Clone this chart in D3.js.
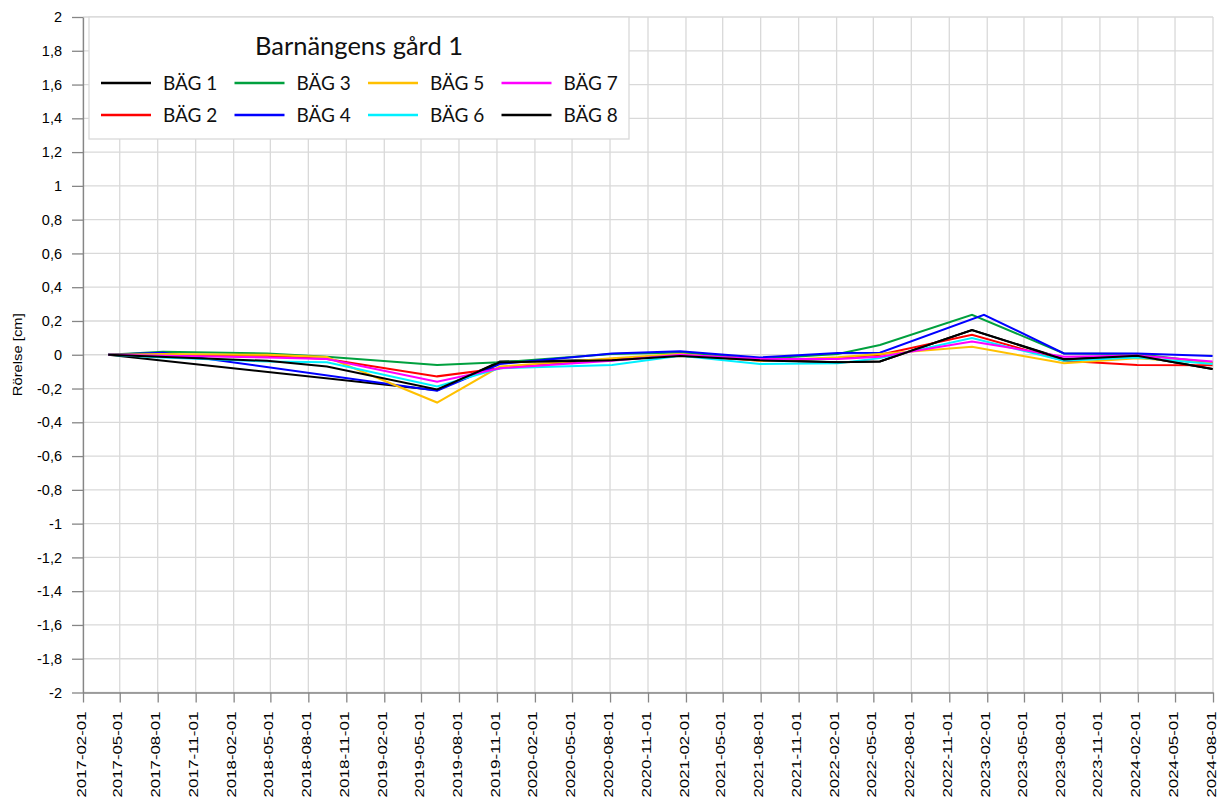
<!DOCTYPE html>
<html>
<head>
<meta charset="utf-8">
<script src="https://cdn.jsdelivr.net/npm/d3@7"></script>
<style>
    body { margin: 0; background: #fff; }
    .axis text { font-family: 'Liberation Sans', Arial, sans-serif; fill: #000; }
    .axis path, .axis line { stroke: #868686; stroke-width: 1.3px; }
    .grid line { stroke: #d9d9d9; stroke-width: 1.3px; }
    .legend text { font-family: Lato, 'Noto Sans', sans-serif; fill: #111; }
    path.serie { fill: none; stroke-width: 2px; stroke-linejoin: miter; }
</style>
</head>
<body>
<div id="chart"></div>
<script>
let dates = ["2017-04-03", "2017-08-14", "2018-04-23", "2018-09-15", "2019-06-09", "2019-11-08",
    "2020-08-06", "2021-01-18", "2021-07-30", "2022-02-04", "2022-05-17", "2022-12-26",
    "2023-01-24", "2023-08-06", "2024-01-30", "2024-07-31"];

// movement in cm, null = no reading
let bag1 = [0, null, null, null, -0.21, -0.04, -0.03, -0.006, -0.03, -0.045, -0.04, 0.146, null, -0.025, -0.006, -0.085];
let bag2 = [0, 0, -0.006, -0.025, -0.128, -0.08, -0.025, 0, -0.036, -0.02, 0, 0.118, null, -0.035, -0.06, -0.062];
let bag3 = [0, 0.018, 0.008, -0.012, -0.061, -0.045, 0.004, 0.014, -0.025, 0.004, 0.058, 0.237, null, 0.008, 0.005, -0.047];
let bag4 = [0, 0.012, null, null, -0.213, -0.055, 0.008, 0.02, -0.016, 0.01, 0.012, null, 0.237, 0.008, 0.008, -0.008];
let bag5 = [0, 0.004, 0, -0.014, -0.283, -0.07, -0.02, 0.004, -0.036, -0.015, 0.004, 0.047, null, -0.05, -0.02, -0.05];
let bag6 = [0, -0.016, -0.04, -0.045, -0.188, -0.08, -0.06, -0.006, -0.055, -0.05, -0.02, 0.099, null, -0.036, -0.016, -0.055];
let bag7 = [0, -0.006, -0.016, -0.025, -0.16, -0.08, -0.036, 0, -0.025, -0.025, -0.012, 0.079, null, -0.012, -0.004, -0.04];
let bag8 = [0, null, -0.036, -0.07, -0.205, -0.045, -0.032, -0.008, -0.033, -0.045, -0.04, 0.146, null, -0.028, -0.006, -0.085];

let names = ["BÄG 1", "BÄG 2", "BÄG 3", "BÄG 4", "BÄG 5", "BÄG 6", "BÄG 7", "BÄG 8"];
let colors = ["#000000", "#ff0000", "#00a03e", "#0000ff", "#ffc000", "#00f0ff", "#ff00ff", "#000000"];
let values = [bag1, bag2, bag3, bag4, bag5, bag6, bag7, bag8];

let xTicks = ["2017-02-01", "2017-05-01", "2017-08-01", "2017-11-01", "2018-02-01", "2018-05-01",
    "2018-08-01", "2018-11-01", "2019-02-01", "2019-05-01", "2019-08-01", "2019-11-01",
    "2020-02-01", "2020-05-01", "2020-08-01", "2020-11-01", "2021-02-01", "2021-05-01",
    "2021-08-01", "2021-11-01", "2022-02-01", "2022-05-01", "2022-08-01", "2022-11-01",
    "2023-02-01", "2023-05-01", "2023-08-01", "2023-11-01", "2024-02-01", "2024-05-01", "2024-08-01"];
let yTicks = d3.range(-10, 11).map(i => i / 5);

let width = 1220,
    height = 798,
    plot = {left: 83, right: 1213, top: 17, bottom: 692.5};

let parse = d3.utcParse("%Y-%m-%d");
let tickDates = xTicks.map(parse);

let x = d3.scaleUtc()
    .domain([tickDates[0], tickDates[tickDates.length - 1]])
    .range([plot.left, plot.right]);

let y = d3.scaleLinear()
    .domain([-2, 2])
    .range([plot.bottom, plot.top]);

let svg = d3.select("#chart").append("svg")
    .attr("width", width)
    .attr("height", height);

// grid
let grid = svg.append("g").attr("class", "grid");
grid.selectAll("line.v")
    .data(tickDates)
    .enter().append("line")
    .attr("class", "v")
    .attr("x1", d => x(d)).attr("x2", d => x(d))
    .attr("y1", plot.top).attr("y2", plot.bottom);
grid.selectAll("line.h")
    .data(yTicks)
    .enter().append("line")
    .attr("class", "h")
    .attr("x1", plot.left).attr("x2", plot.right)
    .attr("y1", d => y(d)).attr("y2", d => y(d));

// axes
let fmt = v => (Math.round(v * 10) / 10).toString().replace(".", ",");

svg.append("g")
    .attr("class", "axis")
    .attr("transform", "translate(" + plot.left + ",0)")
    .call(d3.axisLeft(y).tickValues(yTicks).tickFormat(fmt).tickSize(11).tickSizeOuter(0).tickPadding(10))
    .selectAll("text")
    .style("font-size", "14.5px");

let xAxis = svg.append("g")
    .attr("class", "axis")
    .attr("transform", "translate(0," + plot.bottom + ")")
    .call(d3.axisBottom(x).tickValues(tickDates).tickFormat(d3.utcFormat("%Y-%m-%d")).tickSize(10).tickSizeOuter(0));

xAxis.selectAll("text")
    .style("font-size", "13px")
    .attr("text-anchor", "end")
    .attr("textLength", 86)
    .attr("lengthAdjust", "spacingAndGlyphs")
    .attr("transform", "rotate(-90)")
    .attr("x", -19)
    .attr("y", -2.5)
    .attr("dy", "0.35em");

svg.append("text")
    .attr("transform", "translate(22," + y(0) + ") rotate(-90)")
    .attr("text-anchor", "middle")
    .attr("textLength", 83)
    .attr("lengthAdjust", "spacingAndGlyphs")
    .style("font-family", "'Liberation Sans', Arial, sans-serif")
    .style("font-size", "13.5px")
    .text("Rörelse [cm]");

// series
let line = d3.line()
    .x(d => x(d.date))
    .y(d => y(d.value));

values.forEach((serie, i) => {
    let points = serie
        .map((v, j) => ({date: parse(dates[j]), value: v}))
        .filter(d => d.value !== null);
    svg.append("path")
        .datum(points)
        .attr("class", "serie")
        .attr("d", line)
        .style("stroke", colors[i]);
});

// legend
let legend = svg.append("g").attr("class", "legend");
legend.append("rect")
    .attr("x", 89).attr("y", 17)
    .attr("width", 540).attr("height", 122)
    .style("fill", "#fff")
    .style("stroke", "#d9d9d9")
    .style("stroke-width", "1.3px");

legend.append("text")
    .attr("x", 359).attr("y", 55)
    .attr("text-anchor", "middle")
    .style("font-size", "25.5px")
    .text("Barnängens gård 1");

let item = legend.selectAll("g.item")
    .data(names)
    .enter().append("g")
    .attr("class", "item")
    .attr("transform", (d, i) => "translate(" + (101 + Math.floor(i / 2) * 133.5) + "," + (83 + (i % 2) * 32) + ")");

item.append("line")
    .attr("x1", 0).attr("x2", 50)
    .style("stroke", (d, i) => colors[i])
    .style("stroke-width", "2.5px");

item.append("text")
    .attr("x", 62)
    .attr("dy", "0.35em")
    .style("font-size", "19px")
    .text(d => d);
</script>
</body>
</html>
